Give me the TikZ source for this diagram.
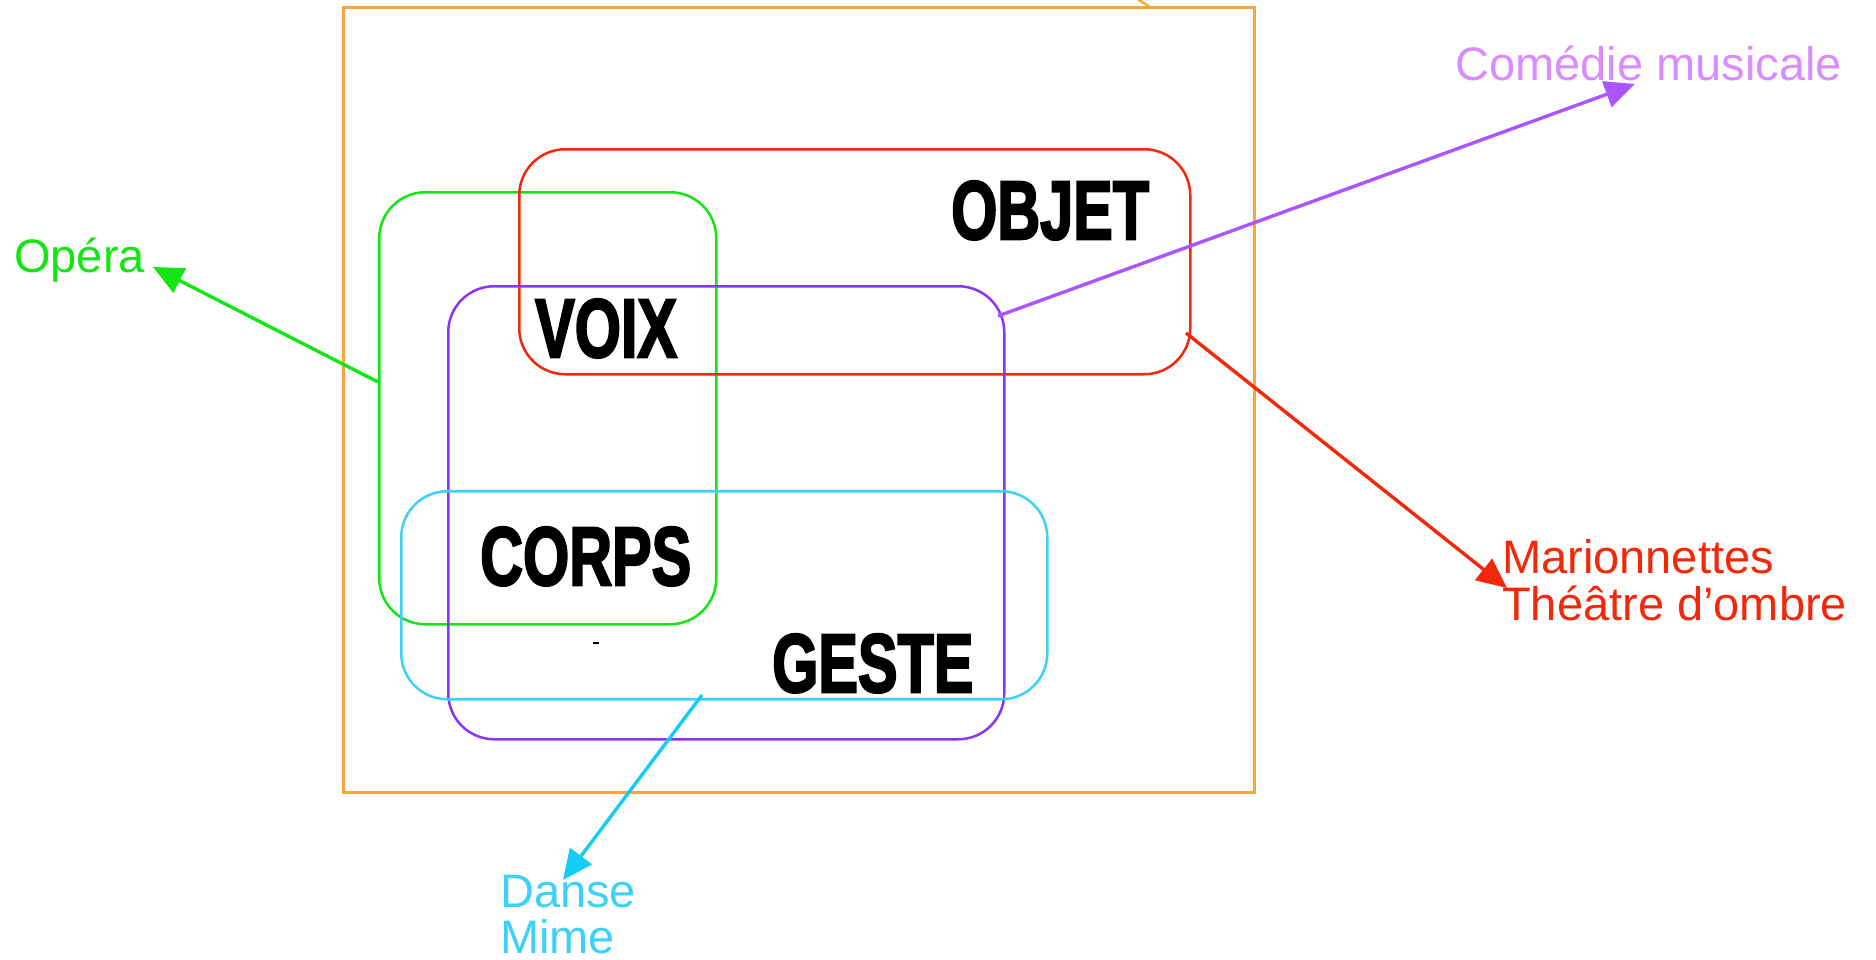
\documentclass[tikz,border=0pt]{standalone}
\usepackage{fontspec}
\setmainfont{Liberation Sans}
\newfontfamily\heavyface[BoldFeatures={FakeBold=3}]{Liberation Sans}
\usetikzlibrary{arrows.meta}
\definecolor{cOrange}{HTML}{F9A63F}
\definecolor{cGreen}{HTML}{14E614}
\definecolor{cRed}{HTML}{F2280A}
\definecolor{cPurple}{HTML}{8A35F5}
\definecolor{cPurpleArrow}{HTML}{AA55FF}
\definecolor{cPurpleText}{HTML}{D98CFF}
\definecolor{cCyan}{HTML}{3DD2F5}
\definecolor{cCyanArrow}{HTML}{14CCF5}
\newcommand{\bigword}[1]{\scalebox{0.715}[1]{\fontsize{83}{83}\heavyface\bfseries #1}}
\begin{document}
\begin{tikzpicture}[x=1pt,y=-1pt,
  zone/.style={draw,line width=2.5pt,rounded corners=46pt,inner sep=0pt,anchor=north west},
  word/.style={anchor=base west,inner sep=0pt,text=black},
  lab/.style={anchor=base west,inner sep=0pt,font=\fontsize{47}{47}\selectfont},
  arr/.style={line width=3.4pt,-{Triangle[length=30pt,width=27pt]}}]
\useasboundingbox (0,0) rectangle (1876,959);
% outer frame
\node[draw=cOrange,line width=2.5pt,inner sep=0pt,anchor=north west,
  minimum width=911pt,minimum height=785pt] (frame) at (342,6) {};
\coordinate (t1) at (1136,-2);
\coordinate (t2) at (1150,7);
\draw[cOrange,line width=2.5pt] (t1) -- (t2);
% overlapping zones
\node[zone,draw=cGreen,minimum width=337pt,minimum height=432pt] (voixz) at (378,191) {};
\node[zone,draw=cRed,minimum width=671pt,minimum height=225pt] (objz) at (518,148) {};
\node[zone,draw=cPurple,minimum width=556pt,minimum height=453pt] (gestz) at (447,285) {};
\node[zone,draw=cCyan,minimum width=646pt,minimum height=208pt] (corpz) at (400,490) {};
% words
\node[word] (objet) at (951,239) {\bigword{OBJET}};
\node[word] (voix) at (535,357) {\bigword{VOIX}};
\node[word] (corps) at (480,585) {\bigword{CORPS}};
\node[word] (geste) at (772,692) {\bigword{GESTE}};
\node[fill=black,inner sep=0pt,minimum width=6pt,minimum height=2.5pt] (dot) at (596,643) {};
% outside labels
\node[lab,text=cGreen] (opera) at (14,272) {Opéra};
\node[lab,text=cPurpleText] (comedie) at (1455,80) {Comédie musicale};
\node[lab,text=cRed] (mario) at (1502,573) {Marionnettes};
\node[lab,text=cRed] (ombre) at (1502,620) {Théâtre d’ombre};
\node[lab,text=cCyan] (danse) at (500,907) {Danse};
\node[lab,text=cCyan] (mime) at (500,953) {Mime};
% connector ends
\coordinate (sOpera) at (378,382);
\coordinate (eOpera) at (153,267);
\coordinate (sCom) at (998,316);
\coordinate (eCom) at (1635,84);
\coordinate (sMar) at (1186,333);
\coordinate (eMar) at (1507,588);
\coordinate (sDan) at (702,695);
\coordinate (eDan) at (563,880);
\draw[arr,cGreen] (sOpera) -- (eOpera);
\draw[arr,cPurpleArrow] (sCom) -- (eCom);
\draw[arr,cRed] (sMar) -- (eMar);
\draw[arr,cCyanArrow] (sDan) -- (eDan);
\end{tikzpicture}
\end{document}
